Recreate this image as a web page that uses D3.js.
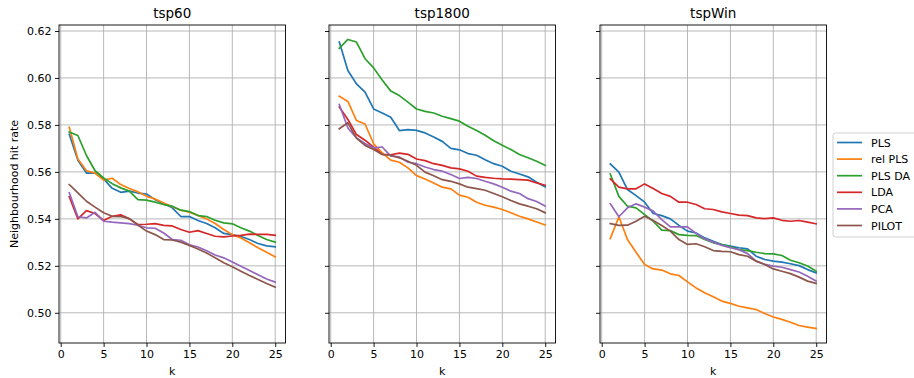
<!DOCTYPE html>
<html>
<head>
<meta charset="utf-8">
<script src="https://cdn.jsdelivr.net/npm/d3@7"></script>
<style>
  body { margin: 0; background: #fff; }
  text { font-family: "DejaVu Sans", sans-serif; fill: #000; }
</style>
</head>
<body>
<script>
// neighbourhood sizes
var kValues = [1,2,3,4,5,6,7,8,9,10,11,12,13,14,15,16,17,18,19,20,21,22,23,24,25];

var methods = ["PLS", "rel PLS", "PLS DA", "LDA", "PCA", "PILOT"];
var colors  = ["#1f77b4", "#ff7f0e", "#2ca02c", "#d62728", "#9467bd", "#8c564b"];
var titles  = ["tsp60", "tsp1800", "tspWin"];

var xTicks = [0, 5, 10, 15, 20, 25];
var yTicks = [0.50, 0.52, 0.54, 0.56, 0.58, 0.60, 0.62];

// tsp60
var tsp60_PLS    = [0.576,0.565,0.5595,0.5595,0.557,0.553,0.5513,0.5518,0.551,0.5506,0.5482,0.5465,0.5447,0.541,0.541,0.5393,0.538,0.5362,0.5338,0.5333,0.5325,0.5312,0.5295,0.5285,0.5281];
var tsp60_relPLS = [0.579,0.5655,0.5605,0.5595,0.5565,0.5573,0.5546,0.5529,0.5515,0.5496,0.5485,0.5468,0.5452,0.5437,0.5428,0.5415,0.5400,0.5380,0.5355,0.5333,0.5319,0.5298,0.5277,0.5258,0.5238];
var tsp60_PLSDA  = [0.577,0.5755,0.567,0.5605,0.5574,0.555,0.5532,0.5518,0.5482,0.548,0.5471,0.5461,0.5454,0.5437,0.5431,0.5414,0.541,0.5394,0.5383,0.5379,0.5362,0.5348,0.5329,0.5312,0.5301];
var tsp60_LDA    = [0.5494,0.540,0.5435,0.5423,0.5393,0.5411,0.5417,0.540,0.5376,0.5377,0.538,0.5372,0.537,0.5355,0.5343,0.535,0.5338,0.5326,0.5323,0.5327,0.533,0.5335,0.5334,0.5334,0.533];
var tsp60_PCA    = [0.5511,0.5409,0.5404,0.5428,0.539,0.5386,0.5383,0.538,0.5373,0.5362,0.536,0.534,0.5312,0.5309,0.529,0.5280,0.5264,0.5246,0.5234,0.5216,0.5198,0.518,0.5162,0.5144,0.5131];
var tsp60_PILOT  = [0.5546,0.5511,0.5475,0.545,0.5426,0.5411,0.541,0.5401,0.5374,0.5348,0.5333,0.5312,0.531,0.5301,0.5287,0.5272,0.5255,0.5234,0.5213,0.5196,0.5177,0.5159,0.5142,0.5125,0.5109];

// tsp1800
var tsp1800_PLS    = [0.6153,0.6032,0.5975,0.594,0.5868,0.5851,0.5833,0.5776,0.578,0.5777,0.5766,0.5749,0.573,0.5700,0.5694,0.5678,0.5671,0.5652,0.5635,0.5624,0.5603,0.5591,0.5579,0.5556,0.5536];
var tsp1800_relPLS = [0.5922,0.590,0.5819,0.5804,0.5720,0.5681,0.565,0.5641,0.5617,0.5584,0.557,0.5553,0.5535,0.5528,0.5501,0.5492,0.5471,0.5458,0.545,0.544,0.5426,0.5411,0.540,0.5387,0.5374];
var tsp1800_PLSDA  = [0.6126,0.6164,0.6153,0.6082,0.6043,0.5991,0.5944,0.5925,0.5897,0.5868,0.5858,0.5851,0.5837,0.5827,0.5816,0.5794,0.5776,0.5756,0.5733,0.5714,0.5695,0.5674,0.566,0.5645,0.5628];
var tsp1800_LDA    = [0.5877,0.5823,0.5759,0.5735,0.5705,0.5675,0.5673,0.568,0.5675,0.5655,0.5648,0.5635,0.5628,0.5617,0.5613,0.5603,0.5582,0.5577,0.5573,0.557,0.5569,0.5567,0.5565,0.5553,0.5543];
var tsp1800_PCA    = [0.5887,0.5787,0.5745,0.5721,0.5702,0.5706,0.5667,0.5664,0.5641,0.5635,0.5621,0.561,0.5603,0.5589,0.5572,0.5577,0.5572,0.556,0.5549,0.5535,0.5518,0.5508,0.5486,0.5474,0.5454];
var tsp1800_PILOT  = [0.5784,0.5809,0.5744,0.5713,0.5695,0.5674,0.5671,0.566,0.5645,0.5628,0.5599,0.5584,0.5567,0.556,0.5549,0.5535,0.5529,0.5522,0.5508,0.5494,0.5478,0.5464,0.5454,0.5443,0.5426];

// tspWin
var tspWin_PLS    = [0.5634,0.5599,0.5525,0.5499,0.5471,0.5423,0.5414,0.540,0.5372,0.5348,0.534,0.5319,0.5305,0.5291,0.5284,0.5277,0.5272,0.5241,0.5227,0.522,0.5216,0.5209,0.5201,0.5184,0.517];
var tspWin_relPLS = [0.5316,0.5409,0.5312,0.5258,0.5206,0.5187,0.5182,0.5166,0.5159,0.5132,0.5106,0.5085,0.5068,0.505,0.504,0.5028,0.5021,0.5014,0.4997,0.4982,0.4972,0.496,0.4946,0.4939,0.4933];
var tspWin_PLSDA  = [0.5591,0.5496,0.5454,0.5447,0.5418,0.539,0.5352,0.535,0.5333,0.533,0.5329,0.5312,0.5298,0.5291,0.5281,0.5269,0.5265,0.5258,0.5252,0.5251,0.5244,0.5224,0.5213,0.5199,0.5177];
var tspWin_LDA    = [0.557,0.5535,0.5528,0.5528,0.5549,0.5529,0.5508,0.5496,0.5471,0.5471,0.5461,0.5443,0.544,0.543,0.5423,0.5416,0.5414,0.5404,0.5401,0.5404,0.5394,0.539,0.5393,0.5386,0.5379];
var tspWin_PCA    = [0.5464,0.5409,0.5447,0.5464,0.545,0.5433,0.5397,0.5366,0.5366,0.5366,0.5338,0.5315,0.5301,0.5287,0.5277,0.5269,0.5252,0.522,0.5206,0.5199,0.5194,0.5184,0.5174,0.5156,0.5135];
var tspWin_PILOT  = [0.538,0.5372,0.5373,0.539,0.5411,0.5393,0.5372,0.5348,0.5312,0.5291,0.5294,0.5281,0.5265,0.5262,0.526,0.5248,0.5241,0.522,0.5206,0.5187,0.5177,0.5167,0.5152,0.5135,0.5125];

var panelData = [
    [tsp60_PLS, tsp60_relPLS, tsp60_PLSDA, tsp60_LDA, tsp60_PCA, tsp60_PILOT],
    [tsp1800_PLS, tsp1800_relPLS, tsp1800_PLSDA, tsp1800_LDA, tsp1800_PCA, tsp1800_PILOT],
    [tspWin_PLS, tspWin_relPLS, tspWin_PLSDA, tspWin_LDA, tspWin_PCA, tspWin_PILOT]
];

var width = 914, height = 378;
var panelLeft = [59, 329, 600],
    panelW = 226.5,
    plotTop = 25, plotBottom = 343;

var svg = d3.select("body").append("svg")
    .attr("width", width)
    .attr("height", height);

// shared y (matplotlib-like 5% margins)
var allVals = [].concat.apply([], panelData.map(function(p){ return [].concat.apply([], p); }));
var yMin = d3.min(allVals), yMax = d3.max(allVals), pad = (yMax - yMin) * 0.05;
var y = d3.scaleLinear().domain([yMin - pad, yMax + pad]).range([plotBottom, plotTop]);

panelData.forEach(function(series, pi) {
    var x = d3.scaleLinear().domain([-0.2, 26.2]).range([0, panelW]);
    var g = svg.append("g").attr("transform", "translate(" + panelLeft[pi] + ",0)");

    // grid
    g.selectAll(".vgrid").data(xTicks).enter().append("line")
        .attr("x1", function(d){ return x(d); }).attr("x2", function(d){ return x(d); })
        .attr("y1", plotTop).attr("y2", plotBottom)
        .style("stroke", "#b0b0b0").style("stroke-width", 0.9);
    g.selectAll(".hgrid").data(yTicks).enter().append("line")
        .attr("x1", 0).attr("x2", panelW)
        .attr("y1", function(d){ return y(d); }).attr("y2", function(d){ return y(d); })
        .style("stroke", "#b0b0b0").style("stroke-width", 0.9);

    var line = d3.line()
        .x(function(d, i) { return x(kValues[i]); })
        .y(function(d) { return y(d); });

    series.forEach(function(vals, si) {
        g.append("path")
            .datum(vals)
            .attr("d", line)
            .style("fill", "none")
            .style("stroke", colors[si])
            .style("stroke-width", 1.7)
            .style("stroke-linejoin", "round")
            .style("stroke-linecap", "square");
    });

    // frame
    g.append("rect")
        .attr("x", 0).attr("y", plotTop)
        .attr("width", panelW).attr("height", plotBottom - plotTop)
        .style("fill", "none").style("stroke", "#000").style("stroke-width", 0.9);

    // x axis
    var xAxis = g.append("g")
        .attr("transform", "translate(0," + plotBottom + ")")
        .call(d3.axisBottom(x).tickValues(xTicks).tickSize(4).tickPadding(3.5));
    xAxis.select(".domain").remove();
    xAxis.selectAll("text").style("font-size", "11px").style("font-family", "DejaVu Sans");
    xAxis.selectAll("line").style("stroke-width", 0.9);

    // y axis
    var yAxis = g.append("g")
        .call(d3.axisLeft(y).tickValues(yTicks).tickSize(4).tickPadding(3.5)
            .tickFormat(pi === 0 ? d3.format(".2f") : ""));
    yAxis.select(".domain").remove();
    yAxis.selectAll("text").style("font-size", "11px").style("font-family", "DejaVu Sans");
    yAxis.selectAll("line").style("stroke-width", 0.9);

    g.append("text")
        .attr("x", panelW / 2).attr("y", 18)
        .style("text-anchor", "middle")
        .style("font-size", "13.5px")
        .text(titles[pi]);

    g.append("text")
        .attr("x", panelW / 2).attr("y", 375)
        .style("text-anchor", "middle")
        .style("font-size", "11px")
        .text("k");
});

svg.append("text")
    .attr("transform", "translate(18," + ((plotTop + plotBottom) / 2) + ") rotate(-90)")
    .style("text-anchor", "middle")
    .style("font-size", "11px")
    .text("Neighbourhood hit rate");

// legend
var legend = svg.append("g").attr("transform", "translate(833,133)");
legend.append("rect")
    .attr("x", 0).attr("y", 0)
    .attr("width", 90).attr("height", 104)
    .attr("rx", 2.5)
    .style("fill", "#fff").style("fill-opacity", 0.8)
    .style("stroke", "#cccccc").style("stroke-width", 0.9);

methods.forEach(function(m, i) {
    var ly = 9.5 + i * 16.6;
    legend.append("line")
        .attr("x1", 4).attr("x2", 29)
        .attr("y1", ly).attr("y2", ly)
        .style("stroke", colors[i]).style("stroke-width", 1.7);
    legend.append("text")
        .attr("x", 38).attr("y", ly + 4)
        .style("font-size", "11px")
        .text(m);
});
</script>
</body>
</html>
